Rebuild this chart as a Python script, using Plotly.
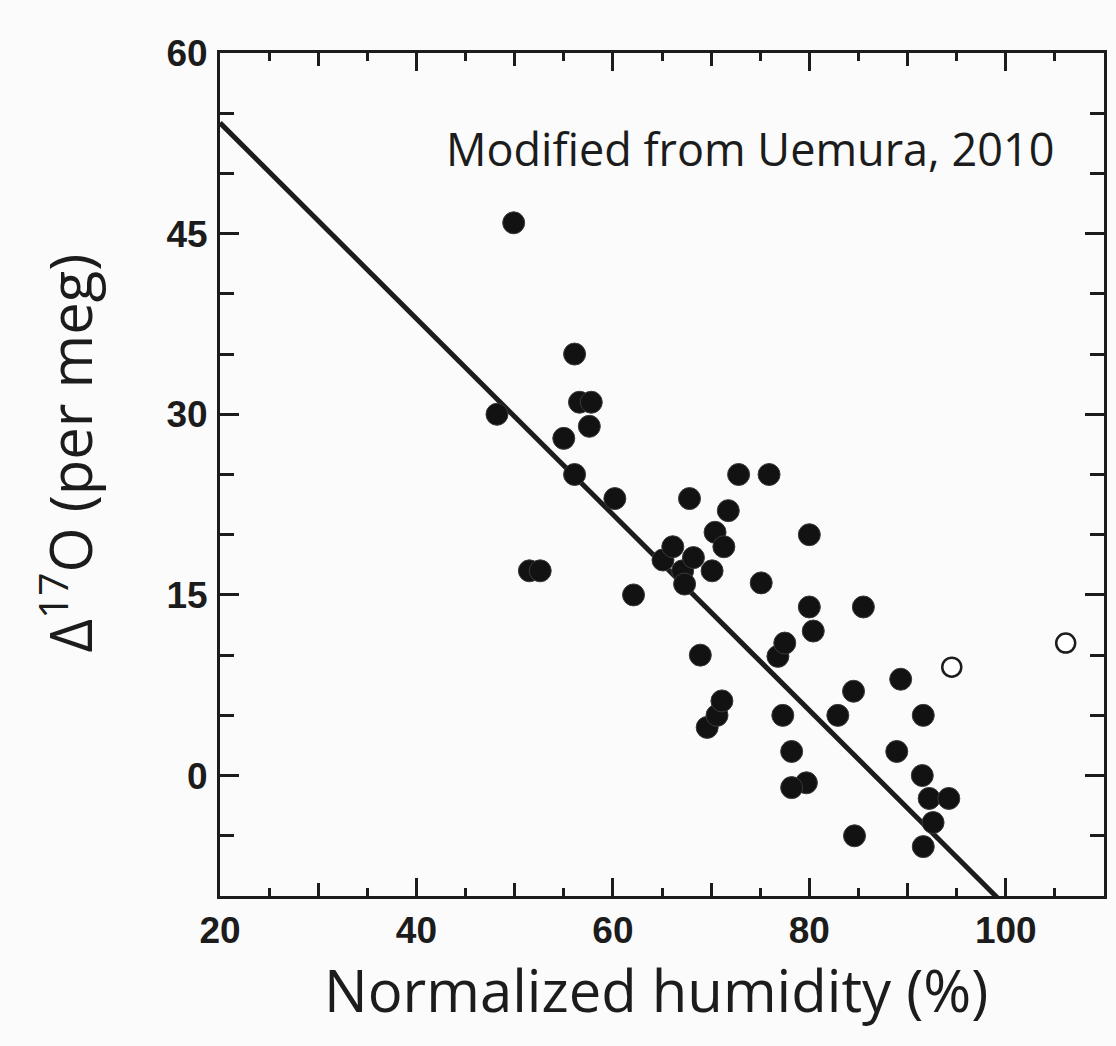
import plotly.graph_objects as go

# ---- data ----
humidity = [48.2, 49.9, 51.5, 52.6, 55.0, 56.1, 56.1, 56.6, 57.8, 57.6,
            60.2, 62.1, 65.1, 66.1, 67.1, 67.3, 67.8, 68.2, 68.9, 69.6,
            70.6, 71.1, 70.1, 70.4, 71.3, 71.75, 72.8, 75.9, 75.1, 76.8,
            77.5, 77.3, 78.2, 79.7, 78.2, 80.0, 80.0, 80.4, 82.9, 84.5,
            84.6, 85.5, 89.3, 88.9, 91.6, 91.5, 92.2, 94.2, 92.6, 91.6]
d17o = [30.0, 45.9, 17.0, 17.0, 28.0, 35.0, 25.0, 31.0, 31.0, 29.0,
        23.0, 15.0, 17.9, 19.0, 17.0, 15.9, 23.0, 18.1, 10.0, 4.0,
        5.0, 6.2, 17.0, 20.2, 19.0, 22.0, 25.0, 25.0, 16.0, 9.9,
        11.0, 5.0, 2.0, -0.6, -1.0, 20.0, 14.0, 12.0, 5.0, 7.0,
        -5.0, 14.0, 8.0, 2.0, 5.0, 0.0, -1.9, -1.9, -3.9, -5.9]

open_humidity = [94.5, 106.1]
open_d17o = [9.0, 11.0]

fit_intercept_at_20 = 54.2
fit_slope = -0.813
fit_x = [20, 110]
fit_y = [fit_intercept_at_20 + fit_slope * (x - 20) for x in fit_x]

x_range = [20, 110]
y_range = [-10, 60]
x_tickvals = [20, 40, 60, 80, 100]
y_tickvals = [0, 15, 30, 45, 60]

INK = "#1c1c1c"
BG = "#fbfbfb"

fig = go.Figure()

fig.add_trace(go.Scatter(
    x=fit_x, y=fit_y, mode="lines",
    line=dict(color=INK, width=5), hoverinfo="skip", showlegend=False))

fig.add_trace(go.Scatter(
    x=humidity, y=d17o, mode="markers",
    marker=dict(size=22, color="#121212", line=dict(color="#3a3a3a", width=1)),
    showlegend=False))

fig.add_trace(go.Scatter(
    x=open_humidity, y=open_d17o, mode="markers", xaxis="x2",
    marker=dict(size=19, color="white", line=dict(color=INK, width=2.5)),
    showlegend=False))

tickfont = dict(family="Liberation Sans, Arial, sans-serif", size=37,
                color=INK, weight="bold")

fig.update_layout(
    width=1116, height=1046,
    margin=dict(l=220, r=9, t=53, b=150),
    paper_bgcolor=BG, plot_bgcolor=BG,
    xaxis=dict(
        range=x_range, tickvals=x_tickvals, ticks="inside", ticklen=18,
        tickwidth=3, tickcolor=INK, showline=True, linewidth=3, linecolor=INK,
        mirror="ticks", showgrid=False, zeroline=False,
        tickfont=tickfont, ticklabelstandoff=0,
        minor=dict(dtick=10, tick0=0, ticks="inside", ticklen=13,
                   tickwidth=3, tickcolor=INK, showgrid=False),
    ),
    xaxis2=dict(
        range=x_range, overlaying="x", anchor="y", side="bottom",
        tickmode="linear", tick0=25, dtick=10, ticks="inside", ticklen=8,
        tickwidth=3, tickcolor=INK, showticklabels=False, showline=False,
        mirror="ticks", showgrid=False, zeroline=False,
    ),
    yaxis=dict(
        range=y_range, tickvals=y_tickvals, ticks="inside", ticklen=19,
        tickwidth=3, tickcolor=INK, showline=True, linewidth=3, linecolor=INK,
        mirror="ticks", showgrid=False, zeroline=False,
        tickfont=tickfont, ticklabelstandoff=2,
        minor=dict(dtick=5, tick0=0, ticks="inside", ticklen=14,
                   tickwidth=3, tickcolor=INK, showgrid=False),
    ),
    annotations=[
        dict(text="Modified from Uemura, 2010", xref="paper", yref="paper",
             x=0.2537, y=0.887, xanchor="left", yanchor="middle",
             showarrow=False, font=dict(family="Open Sans", size=45, color=INK)),
        dict(text="Normalized humidity (%)", xref="paper", yref="paper",
             x=0.4927, y=-0.1115, xanchor="center", yanchor="middle",
             showarrow=False, font=dict(family="Open Sans", size=58, color=INK)),
        dict(text="Δ<sup>17</sup>O (per meg)", xref="paper", yref="paper",
             x=-0.1736, y=0.5255, xanchor="center", yanchor="middle",
             textangle=-90, showarrow=False,
             font=dict(family="Open Sans", size=58, color=INK)),
    ],
)

fig.write_html("out.html")
